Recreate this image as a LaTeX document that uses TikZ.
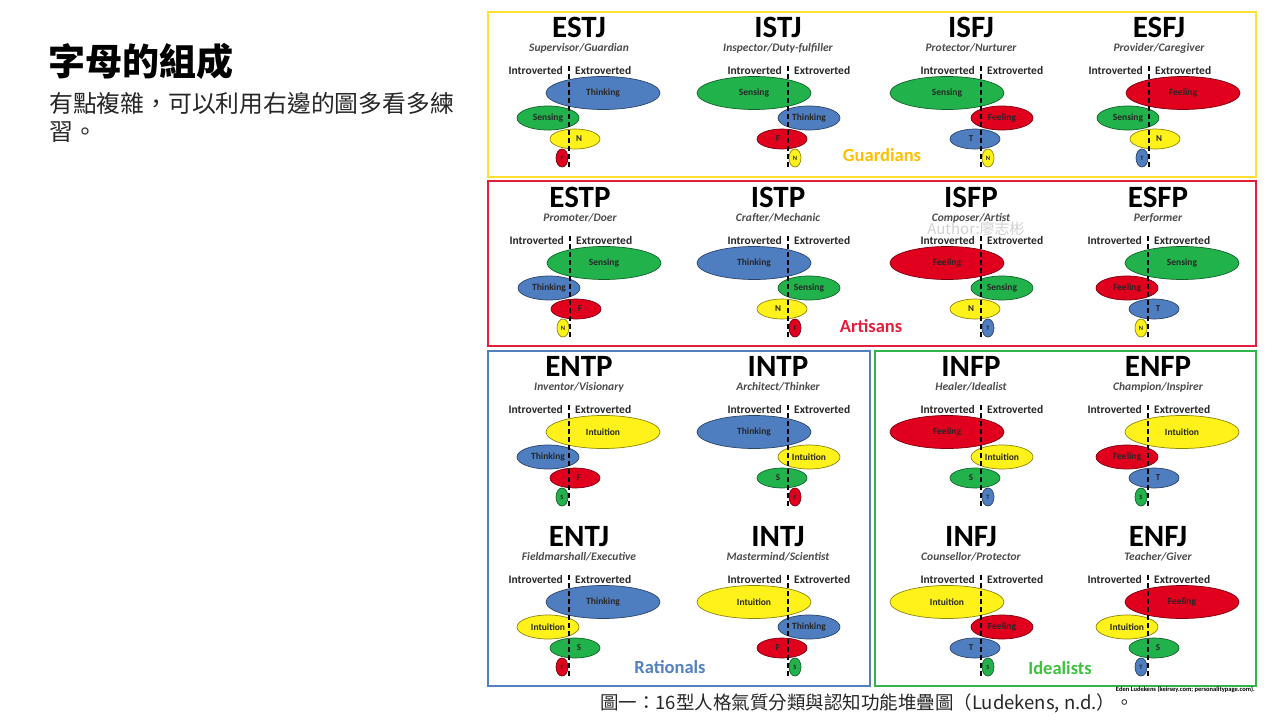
\documentclass[tikz,border=0pt]{standalone}
\usepackage{fontspec}
\setmainfont{Carlito}
\newfontfamily\cjk{Noto Sans CJK TC}
\usepackage{tikz}
\usetikzlibrary{shapes.geometric}

\definecolor{fnT}{HTML}{4F7EC0}
\definecolor{fnF}{HTML}{E0001E}
\definecolor{fnS}{HTML}{22B24C}
\definecolor{fnN}{HTML}{FFF21A}
\definecolor{guardline}{HTML}{FFE135}
\definecolor{guardtext}{HTML}{FFC000}
\definecolor{artline}{HTML}{E3203C}
\definecolor{ratline}{HTML}{5480C0}
\definecolor{idealline}{HTML}{33B54C}
\definecolor{idealtext}{HTML}{3EC23E}

\newcommand{\fullT}{Thinking}
\newcommand{\fullF}{Feeling}
\newcommand{\fullS}{Sensing}
\newcommand{\fullN}{Intuition}

\tikzset{
  typename/.style={font=\fontsize{31}{31}\selectfont\bfseries, inner sep=0pt, text depth=0pt, anchor=base},
  rolename/.style={font=\fontsize{11.5}{13}\selectfont\bfseries\itshape, text=black!70, inner sep=0pt,
    text height=7pt, text depth=0pt, anchor=base},
  axislabel/.style={font=\fontsize{11.5}{13}\selectfont\bfseries, text=black!85, inner sep=0pt},
  fn/.style={ellipse, draw=#1!55!black, fill=#1, line width=0.7pt, inner sep=0pt,
    font=\fontsize{9.5}{10}\selectfont\bfseries, text=black!85},
  fnletter/.style={font=\fontsize{9}{10}\selectfont\bfseries, text=black!85, inner sep=0pt},
  ieline/.style={line width=1.3pt, dash pattern=on 5pt off 3pt},
  frame/.style={line width=2pt},
  group/.style={font=\fontsize{18.5}{20}\selectfont\bfseries, inner sep=0pt},
}

\begin{document}
\begin{tikzpicture}[x=1pt, y=-1pt]
  \useasboundingbox (0,0) rectangle (1280,720);
  \fill[white] (0,0) rectangle (1280,720);

  % slide text
  \node[anchor=west, inner sep=0pt, font=\cjk\fontsize{37}{40}\selectfont\bfseries] (title) at (48,61) {字母的組成};
  \node[anchor=north west, align=left, inner sep=0pt, text=black!85,
    font=\cjk\fontsize{23.8}{28}\selectfont] (body) at (49,92) {有點複雜，可以利用右邊的圖多看多練\\習。};

  % temperament groups
  \draw[frame, guardline] (488,12) rectangle (1256,177);
  \draw[frame, artline] (488,181) rectangle (1256,346);
  \draw[frame, ratline] (488,351) rectangle (870,686);
  \draw[frame, idealline] (875,351) rectangle (1256,686);

  \foreach \xo/\yo/\tname/\role/\s/\dom/\aux/\ter/\inf in {
    569/71/ESTJ/{Supervisor/Guardian}/1/T/S/N/F,
    788/71/ISTJ/{Inspector/Duty-fulfiller}/-1/S/T/F/N,
    981/71/ISFJ/{Protector/Nurturer}/-1/S/F/T/N,
    1149/71/ESFJ/{Provider/Caregiver}/1/F/S/N/T,
    570/241/ESTP/{Promoter/Doer}/1/S/T/F/N,
    788/241/ISTP/{Crafter/Mechanic}/-1/T/S/N/F,
    981/241/ISFP/{Composer/Artist}/-1/F/S/N/T,
    1148/241/ESFP/{Performer}/1/S/F/T/N,
    569/410/ENTP/{Inventor/Visionary}/1/N/T/F/S,
    788/410/INTP/{Architect/Thinker}/-1/T/N/S/F,
    981/410/INFP/{Healer/Idealist}/-1/F/N/S/T,
    1148/410/ENFP/{Champion/Inspirer}/1/N/F/T/S,
    569/580/ENTJ/{Fieldmarshall/Executive}/1/T/N/S/F,
    788/580/INTJ/{Mastermind/Scientist}/-1/N/T/F/S,
    981/580/INFJ/{Counsellor/Protector}/-1/N/F/T/S,
    1148/580/ENFJ/{Teacher/Giver}/1/F/N/S/T}{
    \node[typename] (\tname) at ({\xo+10*\s},{\yo-34}) {\tname};
    \node[rolename] (\tname-role) at ({\xo+10*\s},{\yo-20}) {\role};
    \node[axislabel, anchor=east] (\tname-in) at ({\xo-6},\yo) {Introverted};
    \node[axislabel, anchor=west] (\tname-ex) at ({\xo+6},\yo) {Extroverted};
    \node[fn=fn\dom, minimum width=114, minimum height=33] (\tname-dom) at ({\xo+34*\s},{\yo+22}) {\csname full\dom\endcsname};
    \node[fn=fn\aux, minimum width=62, minimum height=24] (\tname-aux) at ({\xo-21*\s},{\yo+47}) {\csname full\aux\endcsname};
    \node[fn=fn\ter, minimum width=50, minimum height=20, label={[fnletter, xshift=4*\s]center:\ter}] (\tname-ter) at ({\xo+6*\s},{\yo+68}) {};
    \node[fn=fn\inf, minimum width=12, minimum height=18, font=\fontsize{6.5}{7}\selectfont\bfseries] (\tname-inf) at ({\xo-7*\s},{\yo+87}) {\inf};
    \coordinate (\tname-top) at ({\xo},{\yo-5});
    \coordinate (\tname-bot) at ({\xo},{\yo+97});
    \draw[ieline] (\tname-top) -- (\tname-bot);
  }

  \node[group, text=guardtext] (guardians) at (882,155) {Guardians};
  \node[group, text=artline] (artisans) at (871,326) {Artisans};
  \node[group, text=ratline] (rationals) at (670,667) {Rationals};
  \node[group, text=idealtext] (idealists) at (1060,668) {Idealists};

  \node[inner sep=0pt, text height=10pt, text depth=1pt, font=\cjk\fontsize{15}{16}\selectfont, text=black!18] (author) at (976,230) {Author:廖志彬};
  \node[anchor=east, inner sep=0pt, font=\fontsize{6.5}{7}\selectfont\bfseries] (source) at (1255,690) {Eden Ludekens (keirsey.com; personalitypage.com).};
  \node[inner sep=0pt, text height=14pt, text depth=3pt, text=black!85, font=\cjk\fontsize{18.5}{20}\selectfont] (caption) at (867,704) {圖一：16型人格氣質分類與認知功能堆疊圖（Ludekens, n.d.）。};
\end{tikzpicture}
\end{document}
